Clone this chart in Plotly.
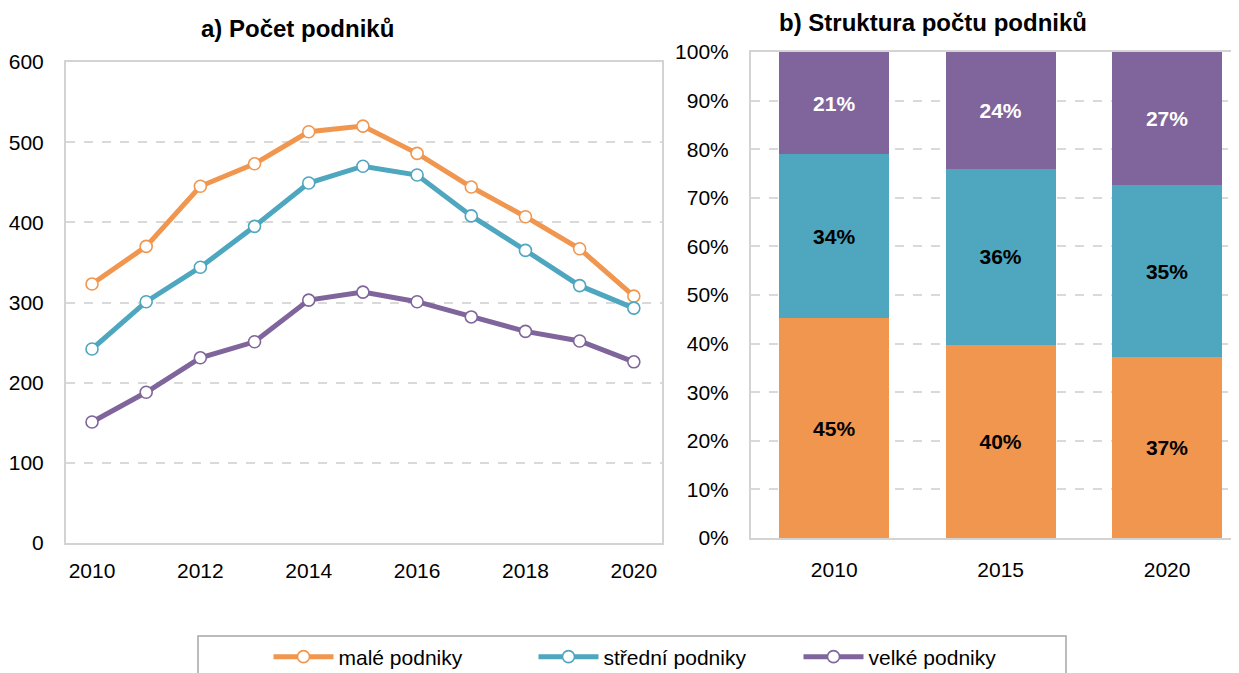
"""
Počet podniků (a) a jejich struktura (b) — dva panely vedle sebe.
"""

import plotly.graph_objects as go

# === DATA ===========================================================
ROKY = [2010, 2011, 2012, 2013, 2014, 2015, 2016, 2017, 2018, 2019, 2020]
MALE = [323, 370, 445, 473, 513, 520, 486, 444, 407, 367, 308]
STREDNI = [242, 301, 344, 395, 449, 470, 459, 408, 365, 321, 293]
VELKE = [151, 188, 231, 251, 303, 313, 301, 282, 264, 252, 226]

ROKY_STRUKTURA = ["2010", "2015", "2020"]
PODIL_MALE = [45.2, 39.8, 37.2]
PODIL_STREDNI = [33.8, 36.1, 35.4]
PODIL_VELKE = [21.0, 24.1, 27.4]

NAZVY = ["malé podniky", "střední podniky", "velké podniky"]

# === STYL ===========================================================
ORANZOVA = "#F0964F"
TYRKYS = "#4EA6BF"
FIALOVA = "#7F659B"
MRIZKA = "#D9D9D9"
RAM = "#D3D3D3"
TEXT = "#000000"
FONT = "Liberation Sans, Arial, sans-serif"

W, H = 1239, 673
# stránka má výchozí okraj body 8 px -> graf je posunutý
POSUN = 8


def px_x(x):
    return (x - POSUN) / W


def px_y(y):
    return 1 - (y - POSUN) / H


fig = go.Figure()

# --- a) čárový graf --------------------------------------------------
for nazev, hodnoty, barva in zip(NAZVY, [MALE, STREDNI, VELKE],
                                 [ORANZOVA, TYRKYS, FIALOVA]):
    fig.add_trace(go.Scatter(
        x=ROKY, y=hodnoty, name=nazev, mode="lines+markers",
        line=dict(color=barva, width=5),
        marker=dict(size=12, color="white", line=dict(color=barva, width=1.6)),
        xaxis="x", yaxis="y", hoverinfo="skip",
    ))

# --- b) 100% skládané sloupce ---------------------------------------
for hodnoty, barva, barva_textu in [
    (PODIL_MALE, ORANZOVA, "black"),
    (PODIL_STREDNI, TYRKYS, "black"),
    (PODIL_VELKE, FIALOVA, "white"),
]:
    fig.add_trace(go.Bar(
        x=ROKY_STRUKTURA, y=hodnoty, marker=dict(color=barva, line=dict(width=0)),
        texttemplate="%{y:.0f}%", textposition="inside",
        insidetextanchor="middle", constraintext="none", textangle=0,
        textfont=dict(family=FONT, size=21, color=barva_textu, weight="bold"),
        xaxis="x2", yaxis="y2", showlegend=False, hoverinfo="skip",
    ))

osa = dict(
    showline=True, linecolor=RAM, linewidth=2,
    tickfont=dict(family=FONT, size=21, color=TEXT),
    zeroline=False,
)

fig.update_layout(
    width=W, height=H,
    margin=dict(l=0, r=0, t=0, b=0, autoexpand=False),
    paper_bgcolor="white", plot_bgcolor="white",
    font=dict(family=FONT, size=21, color=TEXT),
    barmode="stack", bargap=0.34,
    xaxis=dict(
        osa, domain=[px_x(66), px_x(662)], anchor="y",
        range=[2009.52, 2020.52], tickvals=[2010, 2012, 2014, 2016, 2018, 2020],
        showgrid=False, mirror=True, ticks="outside", ticklen=8,
        tickcolor="rgba(0,0,0,0)",
    ),
    yaxis=dict(
        osa, domain=[px_y(543), px_y(62)], anchor="x",
        range=[0, 600], dtick=100, mirror=True,
        showgrid=True, gridcolor=MRIZKA, gridwidth=2, griddash="dash",
        ticks="outside", ticklen=16, tickcolor="rgba(0,0,0,0)",
    ),
    xaxis2=dict(
        osa, domain=[px_x(751), 1.0], anchor="y2",
        range=[-0.5, 2.48], type="category",
        showgrid=False, mirror=True, ticks="outside", ticklen=12,
        tickcolor="rgba(0,0,0,0)",
    ),
    yaxis2=dict(
        osa, domain=[px_y(538), px_y(52)], anchor="x2",
        range=[0, 100], dtick=10, ticksuffix="%",
        showgrid=True, gridcolor=MRIZKA, gridwidth=2, griddash="dash",
        ticks="outside", ticklen=16, tickcolor="rgba(0,0,0,0)",
    ),
    legend=dict(
        orientation="h", x=px_x(666), xanchor="center",
        y=px_y(657), yanchor="middle", traceorder="normal",
        font=dict(family=FONT, size=21, color=TEXT),
        bgcolor="rgba(0,0,0,0)", borderwidth=0,
        itemwidth=60, entrywidth=190,
    ),
    showlegend=True,
)

# nadpisy panelů
fig.add_annotation(
    text="<b>a) Počet podniků</b>", x=px_x(297), y=px_y(28),
    xref="paper", yref="paper", xanchor="center", yanchor="middle",
    showarrow=False, font=dict(family=FONT, size=24, color=TEXT),
)
fig.add_annotation(
    text="<b>b) Struktura počtu podniků</b>", x=px_x(933), y=px_y(22),
    xref="paper", yref="paper", xanchor="center", yanchor="middle",
    showarrow=False, font=dict(family=FONT, size=24, color=TEXT),
)

# rámeček legendy (spodní hrana je mimo obrázek)
fig.add_shape(
    type="rect", xref="paper", yref="paper",
    x0=px_x(198), x1=px_x(1066), y0=px_y(636), y1=-0.2,
    line=dict(color="#A6A6A6", width=1.5), fillcolor="rgba(0,0,0,0)",
)

fig.write_html("out.html")
